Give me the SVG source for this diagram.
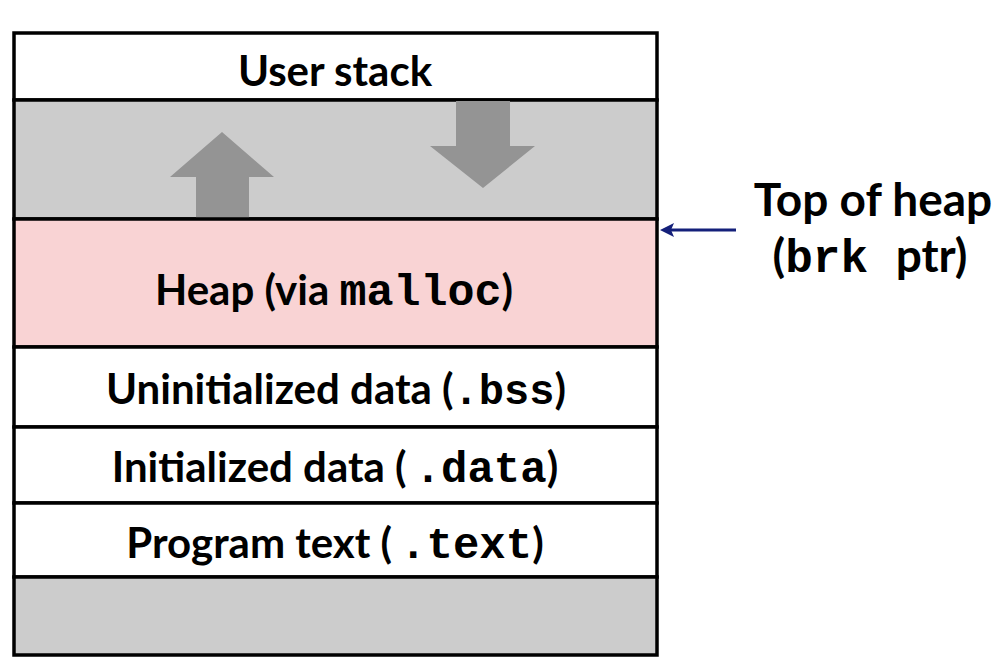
<svg xmlns="http://www.w3.org/2000/svg" width="1007" height="670" viewBox="0 0 1007 670">
<style>
.seg{stroke:#000;stroke-width:3.5}
.lbl{font-family:Lato,"Open Sans",sans-serif;font-weight:bold;font-size:42px;fill:#000;text-anchor:middle}
.big{font-size:46px}
.mono{font-family:"Liberation Mono","Courier New",monospace;font-weight:bold}
.garrow{fill:#949494}
</style>
<rect width="1007" height="670" fill="#fff"/>
<g id="user-stack">
<rect class="seg" x="14" y="33" width="643" height="67" fill="#fff"/>
<text class="lbl" x="335" y="86">User stack</text>
</g>
<g id="gap">
<rect class="seg" x="14" y="100" width="643" height="119" fill="#cccccc"/>
<path class="garrow" d="M196,219 L196,177 L170,177 L222,132 L274,177 L249,177 L249,219 Z"/>
<path class="garrow" d="M456,101 L510,101 L510,146 L535,146 L483,188 L430,146 L456,146 Z"/>
</g>
<g id="heap">
<rect class="seg" x="14" y="219" width="643" height="128" fill="#f9d3d4"/>
<text class="lbl" x="334" y="305">Heap (via <tspan class="mono" font-size="45">malloc</tspan>)</text>
</g>
<g id="bss">
<rect class="seg" x="14" y="347" width="643" height="80" fill="#fff"/>
<text class="lbl" x="336" y="404">Uninitialized data (<tspan class="mono">.bss</tspan>)</text>
</g>
<g id="data">
<rect class="seg" x="14" y="427" width="643" height="76" fill="#fff"/>
<text class="lbl" x="335" y="482">Initialized data (<tspan class="mono" dx="8" font-size="44">.data</tspan>)</text>
</g>
<g id="text">
<rect class="seg" x="14" y="503" width="643" height="74" fill="#fff"/>
<text class="lbl" x="335" y="558">Program text (<tspan class="mono" dx="8" font-size="44">.text</tspan>)</text>
</g>
<g id="bottom">
<rect class="seg" x="14" y="577" width="643" height="78" fill="#cccccc"/>
</g>
<g id="brk-label">
<text class="lbl big" x="873" y="216">Top of heap</text>
<text class="lbl big" x="870" y="272" xml:space="preserve">(<tspan class="mono">brk </tspan>ptr)</text>
</g>
<g id="connectors">
<line x1="736" y1="230" x2="670" y2="230" stroke="#14207a" stroke-width="3"/>
<path d="M660,230 L674,223 L671,230 L674,237 Z" fill="#14207a"/>
</g>
</svg>
